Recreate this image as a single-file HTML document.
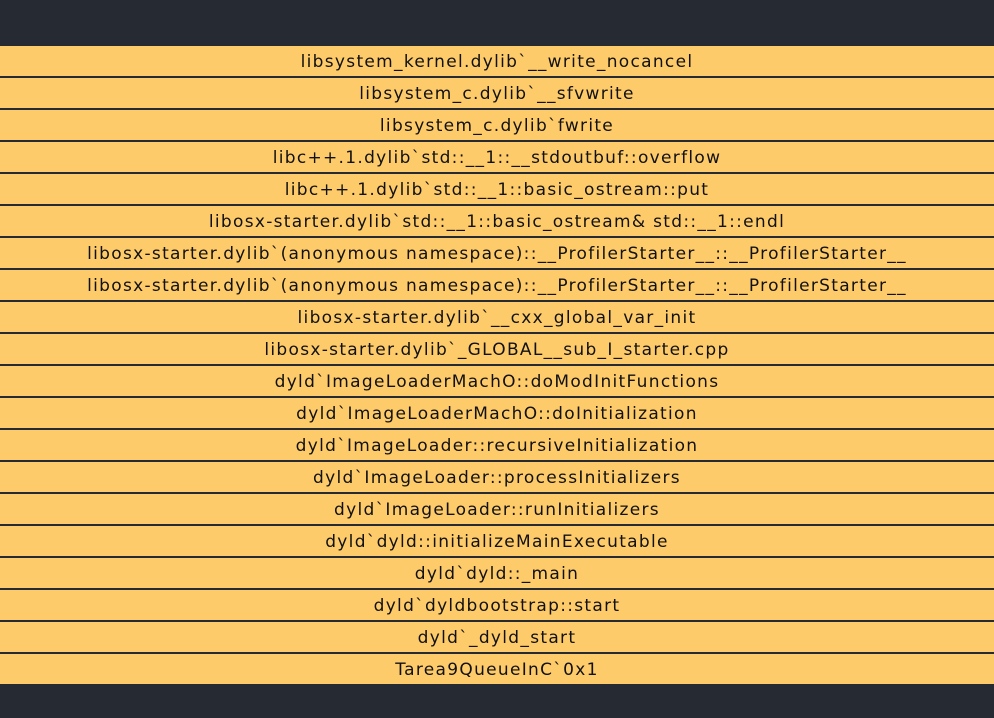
<!DOCTYPE html>
<html><head><style>
html,body{margin:0;padding:0;background:#262a33;width:994px;height:718px;overflow:hidden}
.r{position:absolute;left:0;width:994px;height:30px;background:#fecb6b;color:#111;font:17px "DejaVu Sans","Liberation Sans",sans-serif;letter-spacing:1.3px;text-align:center;line-height:32px;white-space:nowrap}
</style></head><body>
<div class="r" style="top:46px">libsystem_kernel.dylib`__write_nocancel</div>
<div class="r" style="top:78px">libsystem_c.dylib`__sfvwrite</div>
<div class="r" style="top:110px">libsystem_c.dylib`fwrite</div>
<div class="r" style="top:142px">libc++.1.dylib`std::__1::__stdoutbuf::overflow</div>
<div class="r" style="top:174px">libc++.1.dylib`std::__1::basic_ostream::put</div>
<div class="r" style="top:206px">libosx-starter.dylib`std::__1::basic_ostream&amp; std::__1::endl</div>
<div class="r" style="top:238px">libosx-starter.dylib`(anonymous namespace)::__ProfilerStarter__::__ProfilerStarter__</div>
<div class="r" style="top:270px">libosx-starter.dylib`(anonymous namespace)::__ProfilerStarter__::__ProfilerStarter__</div>
<div class="r" style="top:302px">libosx-starter.dylib`__cxx_global_var_init</div>
<div class="r" style="top:334px">libosx-starter.dylib`_GLOBAL__sub_I_starter.cpp</div>
<div class="r" style="top:366px">dyld`ImageLoaderMachO::doModInitFunctions</div>
<div class="r" style="top:398px">dyld`ImageLoaderMachO::doInitialization</div>
<div class="r" style="top:430px">dyld`ImageLoader::recursiveInitialization</div>
<div class="r" style="top:462px">dyld`ImageLoader::processInitializers</div>
<div class="r" style="top:494px">dyld`ImageLoader::runInitializers</div>
<div class="r" style="top:526px">dyld`dyld::initializeMainExecutable</div>
<div class="r" style="top:558px">dyld`dyld::_main</div>
<div class="r" style="top:590px">dyld`dyldbootstrap::start</div>
<div class="r" style="top:622px">dyld`_dyld_start</div>
<div class="r" style="top:654px">Tarea9QueueInC`0x1</div>
</body></html>
